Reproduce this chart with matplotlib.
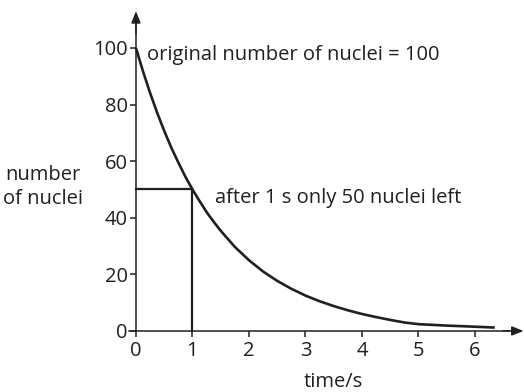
import matplotlib.pyplot as plt

plt.rcParams['font.family'] = ['Open Sans', 'DejaVu Sans']

# values
time_s = [0, 0.125, 0.25, 0.375, 0.5, 0.625, 0.75, 0.875, 1.0, 1.125, 1.25, 1.375, 1.5,
          1.75, 2.0, 2.25, 2.5, 2.75, 3.0, 3.25, 3.5, 3.75, 4.0, 4.25, 4.5, 4.75, 5.0,
          5.5, 6.0, 6.35]
nuclei = [100, 91.7, 84.1, 77.1, 70.7, 64.8, 59.5, 54.5, 50, 45.9, 42, 38.6, 35.4,
          29.7, 25, 21, 17.7, 14.9, 12.5, 10.5, 8.8, 7.3, 6.0, 4.9, 3.9, 3.0, 2.4,
          1.9, 1.5, 1.2]
half_time = 1
half_count = 50

xticks = [0, 1, 2, 3, 4, 5, 6]
yticks = [0, 20, 40, 60, 80, 100]

ink = '#231f20'
fs = 14.5

fig = plt.figure(figsize=(5.24, 3.92), dpi=100)
ax = fig.add_axes([0.2433, 0.1485, 0.7494, 0.8303])
ax.set_xlim(-0.15, 6.8)
ax.set_ylim(-1, 114)

ax.plot(time_s, nuclei, color=ink, lw=1.9, solid_capstyle='butt')
ax.plot([0, half_time], [half_count, half_count], color=ink, lw=1.6)
ax.plot([half_time, half_time], [0, half_count], color=ink, lw=1.6)

for side in ['top', 'right']:
    ax.spines[side].set_visible(False)
ax.spines['left'].set_position(('data', 0))
ax.spines['bottom'].set_position(('data', 0))
ax.spines['left'].set_bounds(0, 109)
ax.spines['bottom'].set_bounds(-0.13, 6.6)
for side in ['left', 'bottom']:
    ax.spines[side].set_color(ink)
    ax.spines[side].set_linewidth(1.1)

# arrow heads
ax.annotate('', xy=(0, 113), xytext=(0, 105), annotation_clip=False,
            arrowprops=dict(arrowstyle='-|>,head_length=0.7,head_width=0.28',
                            color=ink, lw=1.1, shrinkA=0, shrinkB=0))
ax.annotate('', xy=(6.86, 0), xytext=(6.5, 0), annotation_clip=False,
            arrowprops=dict(arrowstyle='-|>,head_length=0.7,head_width=0.28',
                            color=ink, lw=1.1, shrinkA=0, shrinkB=0))

ax.set_xticks(xticks)
ax.set_yticks(yticks)
ax.tick_params(direction='out', length=4, width=1.1, color=ink, labelcolor=ink,
               labelsize=fs)
ax.tick_params(axis='y', pad=2)
ax.tick_params(axis='x', pad=3)

ax.text(0.2, 97.5, 'original number of nuclei = 100', fontsize=fs, color=ink,
        va='center', ha='left')
ax.text(1.4, 47, 'after 1 s only 50 nuclei left', fontsize=fs, color=ink,
        va='center', ha='left')
fig.text(43 / 524, 1 - 187 / 392, 'number\nof nuclei', fontsize=fs, color=ink,
         ha='center', va='center', linespacing=1.2)
ax.text(3.5, -18, 'time/s', fontsize=fs, color=ink, ha='center', va='center')

fig.savefig('out.png', dpi=100)
